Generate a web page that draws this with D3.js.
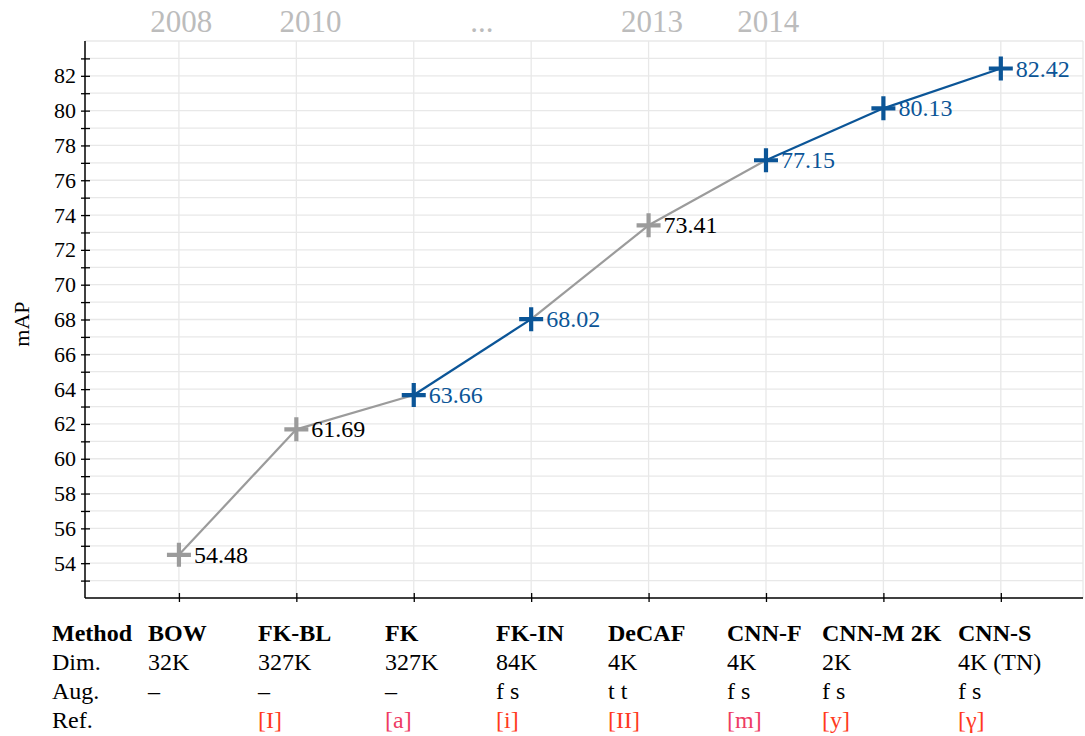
<!DOCTYPE html>
<html>
<head>
<meta charset="utf-8">
<script src="https://cdn.jsdelivr.net/npm/d3@7"></script>
<style>
  body { margin: 0; background: #fff; }
  svg { display: block; font-family: "Liberation Serif", "DejaVu Serif", serif; }
</style>
</head>
<body>
<script>
// data
var methods = ["BOW", "FK-BL", "FK", "FK-IN", "DeCAF", "CNN-F", "CNN-M 2K", "CNN-S"];
var mapValues = [54.48, 61.69, 63.66, 68.02, 73.41, 77.15, 80.13, 82.42];
var highlight = [false, false, true, true, false, true, true, true];
// segment i joins point i and i+1
var segHighlight = [false, false, true, false, false, true, true];
var dims = ["32K", "327K", "327K", "84K", "4K", "4K", "2K", "4K (TN)"];
var augs = ["\u2013", "\u2013", "\u2013", "f s", "t t", "f s", "f s", "f s"];
var refs = ["", "[I]", "[a]", "[i]", "[II]", "[m]", "[y]", "[\u03b3]"];
var refKind = ["", "r", "p", "r", "r", "p", "r", "r"];
var rowNames = ["Method", "Dim.", "Aug.", "Ref."];
var years = ["2008", "2010", "...", "2013", "2014"];
var yearPos = [0.02, 1.12, 2.58, 4.03, 5.02];
var yTicks = d3.range(53, 84);

var W = 1085, H = 736;
var gray = "#9b9b9b", blue = "#0b5597";
var refColor = { r: "#ff3a1e", p: "#ee3b64" };

var svg = d3.select("body").append("svg")
    .attr("width", W)
    .attr("height", H);

var x = d3.scaleLinear().domain([-0.8, 7.7]).range([85, 1083]);
var y = d3.scaleLinear().domain([52, 84]).range([598, 41]);

// grid
var grid = svg.append("g").attr("stroke", "#e8e8e8").attr("stroke-width", 1.3);
grid.selectAll("line.h")
    .data(d3.range(53, 85))
    .enter().append("line")
    .attr("x1", x.range()[0]).attr("x2", x.range()[1])
    .attr("y1", function(d){ return y(d); })
    .attr("y2", function(d){ return y(d); });
grid.selectAll("line.v")
    .data(d3.range(0, 8).concat([7.7]))
    .enter().append("line")
    .attr("y1", y.range()[0]).attr("y2", y.range()[1])
    .attr("x1", function(d){ return x(d); })
    .attr("x2", function(d){ return x(d); });

// axes
var yAxis = d3.axisLeft(y)
    .tickValues(yTicks)
    .tickSize(4)
    .tickPadding(5)
    .tickFormat(function(d){ return d % 2 === 0 ? d : ""; });
var gy = svg.append("g")
    .attr("transform", "translate(" + x.range()[0] + ",0)")
    .call(yAxis);
gy.attr("font-family", null);
gy.select(".domain").remove();
gy.selectAll(".tick line").attr("x1", -4).attr("x2", 5).attr("stroke-width", 1.3);
gy.selectAll(".tick text")
    .style("font-family", "Liberation Serif")
    .style("font-size", "22px")
    .attr("fill", "#000");
gy.append("line")
    .attr("y1", y.range()[0]).attr("y2", y.range()[1])
    .attr("stroke", "#000").attr("stroke-width", 1.5);

var xAxis = d3.axisBottom(x).tickValues(d3.range(0, 8)).tickSize(4).tickFormat("");
var gx = svg.append("g")
    .attr("transform", "translate(0," + y.range()[0] + ")")
    .call(xAxis);
gx.select(".domain").remove();
gx.selectAll(".tick line").attr("y1", -5).attr("y2", 4).attr("stroke-width", 1.3);
gx.append("line")
    .attr("x1", x.range()[0]).attr("x2", x.range()[1])
    .attr("stroke", "#000").attr("stroke-width", 1.5);

// y label
svg.append("text")
    .attr("transform", "translate(29,324) rotate(-90)")
    .attr("text-anchor", "middle")
    .style("font-size", "22px")
    .text("mAP");

// year labels on top
svg.selectAll("text.year")
    .data(years)
    .enter().append("text")
    .attr("class", "year")
    .attr("x", function(d, i){ return x(yearPos[i]); })
    .attr("y", 32)
    .attr("text-anchor", "middle")
    .attr("fill", "#bcbcbc")
    .style("font-size", "31px")
    .text(function(d){ return d; });

// line segments
var segs = d3.range(mapValues.length - 1);
svg.selectAll("line.seg")
    .data(segs)
    .enter().append("line")
    .attr("class", "seg")
    .attr("x1", function(i){ return x(i); })
    .attr("y1", function(i){ return y(mapValues[i]); })
    .attr("x2", function(i){ return x(i + 1); })
    .attr("y2", function(i){ return y(mapValues[i + 1]); })
    .attr("stroke", function(i){ return segHighlight[i] ? blue : gray; })
    .attr("stroke-width", 2.2);

// plus markers
var pts = svg.selectAll("g.pt")
    .data(mapValues)
    .enter().append("g")
    .attr("transform", function(d, i){ return "translate(" + x(i) + "," + y(d) + ")"; });
pts.append("path")
    .attr("d", "M-12,0H12M0,-12V12")
    .attr("stroke", function(d, i){ return highlight[i] ? blue : gray; })
    .attr("stroke-width", 4.2)
    .attr("fill", "none");
pts.append("text")
    .attr("x", 15)
    .attr("y", 8)
    .attr("fill", function(d, i){ return highlight[i] ? blue : "#000"; })
    .style("font-size", "24px")
    .text(function(d){ return d.toFixed(2); });

// table below
var colX = [148, 258, 385, 496, 608, 727, 822, 958];
var rowY = [641, 670, 699, 728];
var table = svg.append("g").style("font-size", "24px");
table.selectAll("text.rowname")
    .data(rowNames)
    .enter().append("text")
    .attr("x", 52)
    .attr("y", function(d, i){ return rowY[i]; })
    .style("font-weight", function(d, i){ return i === 0 ? "bold" : "normal"; })
    .text(function(d){ return d; });

var rows = [methods, dims, augs, refs];
rows.forEach(function(vals, r){
    table.selectAll("text.r" + r)
        .data(vals)
        .enter().append("text")
        .attr("x", function(d, i){ return colX[i]; })
        .attr("y", rowY[r])
        .style("font-weight", r === 0 ? "bold" : "normal")
        .attr("fill", function(d, i){ return r === 3 ? refColor[refKind[i]] : "#000"; })
        .text(function(d){ return d; });
});
</script>
</body>
</html>
